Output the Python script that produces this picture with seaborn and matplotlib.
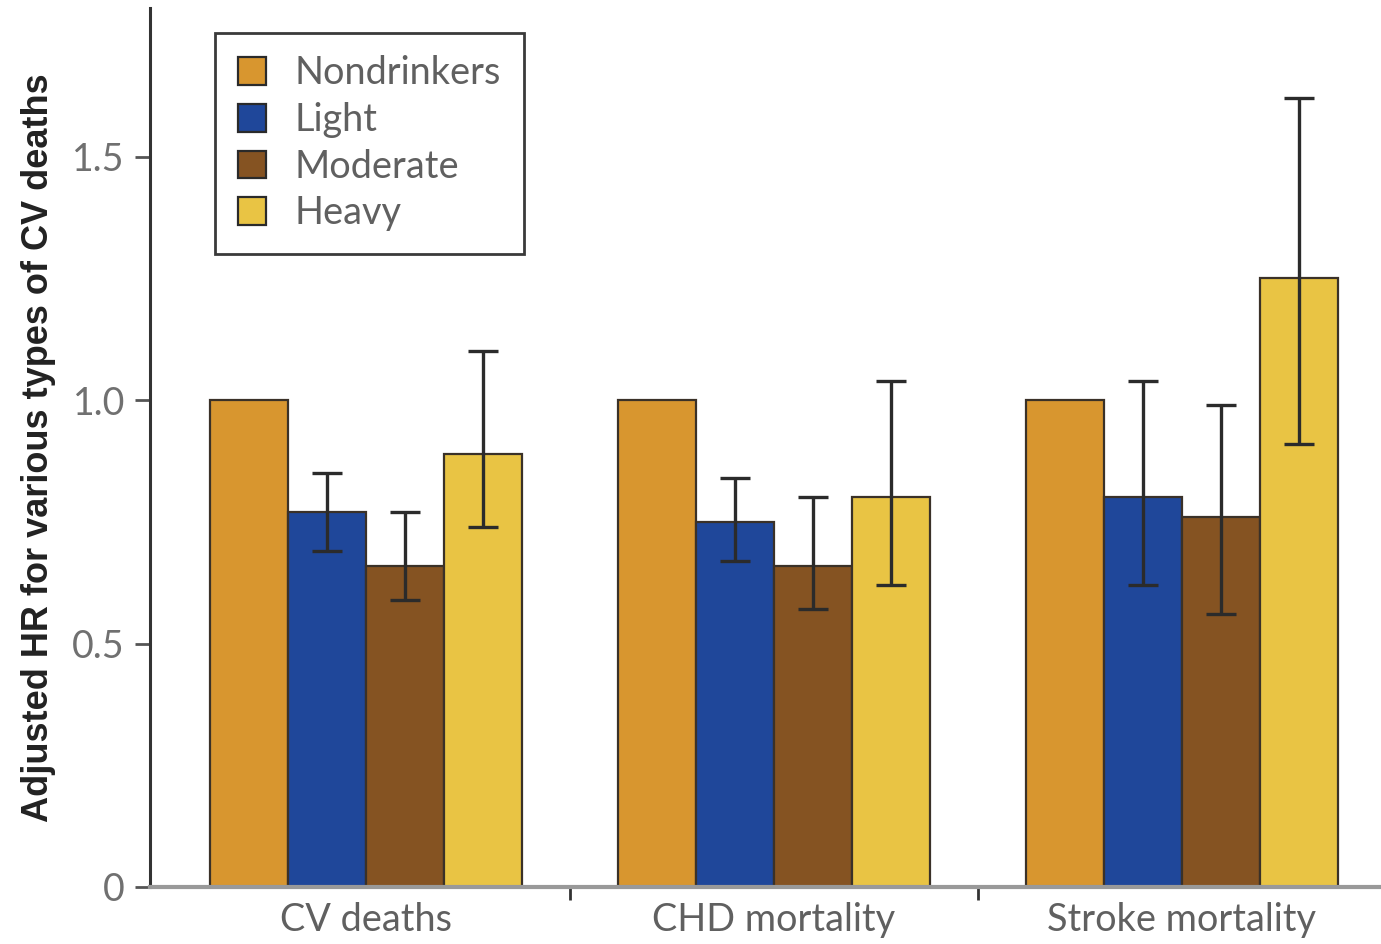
import matplotlib
matplotlib.use("Agg")
import matplotlib.pyplot as plt
import seaborn as sns
import pandas as pd
import numpy as np
from matplotlib.patches import Patch

# Adjusted hazard ratios by drinking category
categories = ["CV deaths", "CHD mortality", "Stroke mortality"]
groups = ["Nondrinkers", "Light", "Moderate", "Heavy"]

hr_nondrinkers = [1.00, 1.00, 1.00]
hr_light = [0.77, 0.75, 0.80]
hr_moderate = [0.66, 0.66, 0.76]
hr_heavy = [0.89, 0.80, 1.25]

# 95% confidence limits (reference group has none)
ci_low_light = [0.69, 0.67, 0.62]
ci_high_light = [0.85, 0.84, 1.04]
ci_low_moderate = [0.59, 0.57, 0.56]
ci_high_moderate = [0.77, 0.80, 0.99]
ci_low_heavy = [0.74, 0.62, 0.91]
ci_high_heavy = [1.10, 1.04, 1.62]

colors = ["#D8962F", "#1F479A", "#855322", "#E9C444"]

rows = []
for g, vals in zip(groups, [hr_nondrinkers, hr_light, hr_moderate, hr_heavy]):
    for c, v in zip(categories, vals):
        rows.append({"category": c, "group": g, "hr": v})
df = pd.DataFrame(rows)

ci = {
    "Light": (ci_low_light, ci_high_light),
    "Moderate": (ci_low_moderate, ci_high_moderate),
    "Heavy": (ci_low_heavy, ci_high_heavy),
}

sns.set_style("ticks")
plt.rcParams["font.family"] = ["Lato", "DejaVu Sans"]

fig = plt.figure(figsize=(13.81, 9.44), dpi=100)
ax = fig.add_axes([0.1086, 0.0604, 0.8914, 0.9311])

sns.barplot(data=df, x="category", y="hr", hue="group", order=categories,
            hue_order=groups, palette=colors, saturation=1, width=0.765,
            gap=0, errorbar=None, edgecolor="#3a3128", linewidth=1.6,
            legend=False, ax=ax)

# confidence intervals on top of each drinking bar
for g, cont in zip(groups, ax.containers):
    if g not in ci:
        continue
    lo, hi = ci[g]
    for bar, l, h in zip(cont.patches, lo, hi):
        xc = bar.get_x() + bar.get_width() / 2
        ax.errorbar([xc], [(l + h) / 2], yerr=[[(h - l) / 2]], fmt="none",
                    ecolor="#2b2b2b", elinewidth=2.4, capsize=11,
                    capthick=2.4, zorder=5)

ax.set_xlim(-0.529, 2.488)
ax.set_ylim(0, 1.805)
ax.set_yticks([0, 0.5, 1.0, 1.5])
ax.set_yticklabels(["0", "0.5", "1.0", "1.5"])
ax.set_xticks([0.5, 1.5], minor=True)

ax.tick_params(axis="x", which="major", length=0, pad=11, labelsize=27.3,
               labelcolor="#606060")
ax.tick_params(axis="x", which="minor", length=9, width=2, color="#333333",
               direction="out")
ax.tick_params(axis="y", length=11, width=2, color="#555555", pad=7,
               labelsize=27, labelcolor="#707070")

ax.set_xlabel("")
ax.set_ylabel("Adjusted HR for various types of CV deaths", fontsize=26,
              fontweight="bold", color="#222222",
              family=["Liberation Sans", "DejaVu Sans"], labelpad=12)

sns.despine(ax=ax)
ax.spines["left"].set_color("#333333")
ax.spines["left"].set_linewidth(2.2)
ax.spines["bottom"].set_color("#999999")
ax.spines["bottom"].set_linewidth(3)

handles = [Patch(facecolor=c, edgecolor="#2a2a2a", linewidth=1.6, label=g)
           for c, g in zip(colors, groups)]
leg = ax.legend(handles=handles, loc="upper left",
                bbox_to_anchor=(0.053, 0.972), fontsize=27.3,
                handlelength=0.75, handleheight=0.75, handletextpad=0.75,
                labelspacing=0.28, borderpad=0.6, borderaxespad=0,
                fancybox=False, framealpha=1, labelcolor="#606060")
leg.get_frame().set_edgecolor("#3a3a3a")
leg.get_frame().set_linewidth(2)

fig.savefig("out.png", dpi=100)
